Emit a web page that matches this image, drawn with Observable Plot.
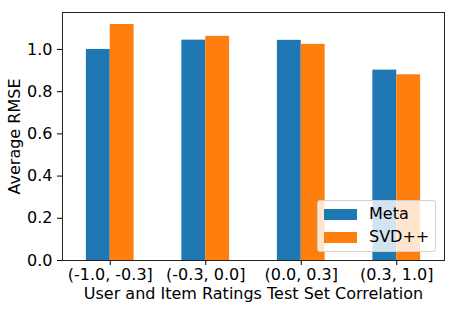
<!DOCTYPE html>
<html>
<head>
<meta charset="utf-8">
<script src="https://cdn.jsdelivr.net/npm/d3@7"></script>
<script src="https://cdn.jsdelivr.net/npm/@observablehq/plot@0.6"></script>
<style>
  html, body { margin: 0; padding: 0; background: #fff; }
  #wrap { position: relative; width: 456px; height: 312px; font-family: "DejaVu Sans", sans-serif; }
  #legend { position: absolute; left: 317px; top: 200px; width: 119px; height: 52px;
    background: rgba(255,255,255,0.8); border: 1px solid #d0d0d0; border-radius: 3px; box-sizing: border-box; }
  .item { position: absolute; left: 6px; height: 16px; font-size: 16px; line-height: 16px; color: #000; }
  .sw { position: absolute; left: 0; top: 1px; width: 33px; height: 11px; }
  .lab { position: absolute; left: 45px; top: -2px; white-space: nowrap; }
</style>
</head>
<body>
<div id="wrap"></div>
<script>
const categories = ["(-1.0, -0.3]", "(-0.3, 0.0]", "(0.0, 0.3]", "(0.3, 1.0]"];
const seriesNames = ["Meta", "SVD++"];
const metaValues = [1.000, 1.044, 1.043, 0.902];
const svdValues = [1.118, 1.062, 1.024, 0.880];
const seriesColors = ["#1f77b4", "#ff7f0e"];
const yTicks = [0, 0.2, 0.4, 0.6, 0.8, 1.0];
const xLabel = "User and Item Ratings Test Set Correlation";
const yLabel = "Average RMSE";

const barWidth = 0.25;
const seriesValues = [metaValues, svdValues];
const data = categories.flatMap((c, i) => seriesNames.map((s, k) => ({
  category: c, index: i, series: s, k, value: seriesValues[k][i]
})));

const chart = Plot.plot({
  width: 456,
  height: 312,
  marginLeft: 62,
  marginRight: 12,
  marginTop: 12,
  marginBottom: 52,
  style: { fontFamily: "DejaVu Sans, sans-serif", fontSize: "16px", color: "#000", background: "#fff" },
  x: { type: "linear", domain: [-0.5, categories.length - 0.5] },
  y: { domain: [0, 1.175] },
  color: { domain: seriesNames, range: seriesColors },
  marks: [
    Plot.rectY(data, {
      x1: d => d.index - barWidth + d.k * barWidth,
      x2: d => d.index + d.k * barWidth,
      y: "value",
      fill: "series"
    }),
    Plot.frame({ stroke: "#222", strokeWidth: 1 }),
    Plot.axisY({ ticks: yTicks, tickFormat: d3.format(".1f"), tickSize: 5, tickPadding: 5, fontSize: 16,
      label: yLabel, labelAnchor: "center", labelArrow: "none", labelOffset: 54 }),
    Plot.axisX({ ticks: d3.range(categories.length), tickFormat: i => categories[i], tickSize: 5, tickPadding: 3, fontSize: 16,
      label: xLabel, labelAnchor: "center", labelArrow: "none", labelOffset: 38 })
  ]
});

const wrap = document.getElementById("wrap");
wrap.appendChild(chart);

const legend = document.createElement("div");
legend.id = "legend";
seriesNames.forEach((s, k) => {
  const item = document.createElement("div");
  item.className = "item";
  item.style.top = (7 + k * 23) + "px";
  const sw = document.createElement("div");
  sw.className = "sw";
  sw.style.background = seriesColors[k];
  const lab = document.createElement("div");
  lab.className = "lab";
  lab.textContent = s;
  item.appendChild(sw);
  item.appendChild(lab);
  legend.appendChild(item);
});
wrap.appendChild(legend);
</script>
</body>
</html>
